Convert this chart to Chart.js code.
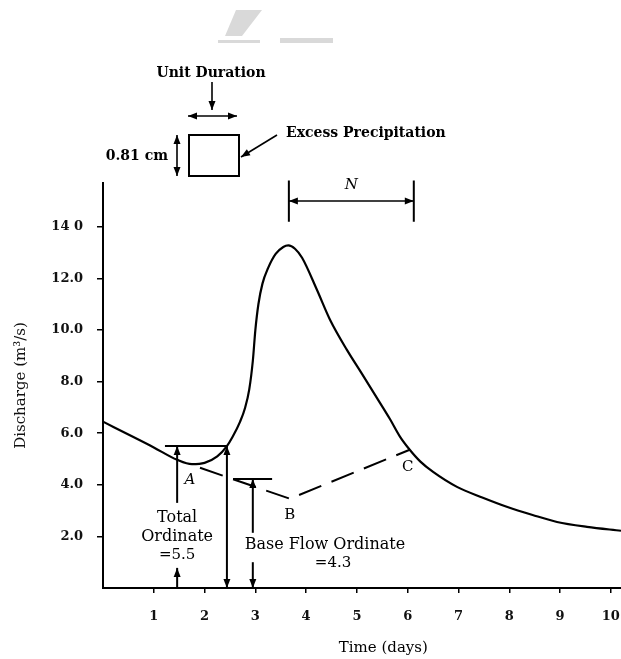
<!DOCTYPE html>
<html>
<head>
<meta charset="utf-8">
<script src="https://cdn.jsdelivr.net/npm/chart.js@4.4.0/dist/chart.umd.min.js"></script>
<style>
  html, body { margin: 0; padding: 0; background: #fff; }
  #wrap { width: 621px; height: 659px; }
</style>
</head>
<body>
<div id="wrap"><canvas id="hydro" width="621" height="659"></canvas></div>
<script>
// Hydrograph: time in days, discharge in m3/s
const times = [0, 0.5, 1.0, 1.46, 1.75, 2.0, 2.25, 2.44, 2.55, 2.7, 2.8, 2.88, 2.95, 3.0, 3.06, 3.14, 3.25, 3.4, 3.55, 3.65, 3.78, 3.92, 4.21, 4.47, 4.8, 5.1, 5.39, 5.65, 5.85, 6.04, 6.25, 6.5, 6.97, 7.48, 7.95, 8.46, 8.94, 9.53, 10.2];
const discharge = [6.45, 5.95, 5.45, 4.97, 4.8, 4.85, 5.1, 5.5, 5.85, 6.45, 7.0, 7.7, 8.8, 10.0, 11.0, 11.8, 12.4, 12.95, 13.22, 13.28, 13.15, 12.8, 11.57, 10.4, 9.24, 8.3, 7.38, 6.55, 5.86, 5.36, 4.9, 4.5, 3.92, 3.5, 3.15, 2.83, 2.56, 2.37, 2.22];

// Base flow separation A -> B -> C
const baseTimes = [1.91, 3.68, 6.04];
const baseFlow = [4.66, 3.46, 5.36];

const xTickLabels = ['1', '2', '3', '4', '5', '6', '7', '8', '9', '10'];
const yTickLabels = ['2.0', '4.0', '6.0', '8.0', '10.0', '12.0', '14 0'];

// Ordinate markers (days, m3/s)
const totalOrdinate = 5.5;
const baseOrdinate = 4.23;
const hLines = [
    [1.22, 2.46, totalOrdinate],
    [2.56, 3.33, baseOrdinate]
];
// [x, yFrom, yTo, head at from, head at to]
const arrows = [
    [1.46, 3.3, totalOrdinate, false, true],
    [1.46, 0, 0.78, false, true],
    [2.44, 0, totalOrdinate, true, true],
    [2.95, 2.14, baseOrdinate, false, true],
    [2.95, 1.0, 0, false, true]
];
const serif = '"DejaVu Serif"';
const notes = [
    ['A', 1.71, 4.2, 'italic 15px ' + serif],
    ['B', 3.68, 2.83, '15px ' + serif],
    ['C', 6.0, 4.7, '15px ' + serif],
    ['Total', 1.46, 2.72, '16px ' + serif],
    ['Ordinate', 1.46, 1.98, '16px ' + serif],
    ['=5.5', 1.46, 1.28, '15px ' + serif],
    ['Base Flow Ordinate', 4.37, 1.67, '16px ' + serif],
    ['=4.3', 4.53, 0.97, '15px ' + serif]
];
const nSpan = [3.66, 6.12];

function arrowHead(ctx, x, y, dx, dy) {
    const len = 9, half = 3.5;
    const m = Math.hypot(dx, dy);
    const ux = dx / m, uy = dy / m;
    ctx.beginPath();
    ctx.moveTo(x, y);
    ctx.lineTo(x - ux * len - uy * half, y - uy * len + ux * half);
    ctx.lineTo(x - ux * len + uy * half, y - uy * len - ux * half);
    ctx.closePath();
    ctx.fill();
}

function arrowLine(ctx, x1, y1, x2, y2, h1, h2) {
    ctx.beginPath();
    ctx.moveTo(x1, y1);
    ctx.lineTo(x2, y2);
    ctx.stroke();
    if (h1) arrowHead(ctx, x1, y1, x1 - x2, y1 - y2);
    if (h2) arrowHead(ctx, x2, y2, x2 - x1, y2 - y1);
}

const annotations = {
    id: 'annotations',
    afterDatasetsDraw(chart) {
        const ctx = chart.ctx;
        const xs = chart.scales.x, ys = chart.scales.y;
        const px = v => xs.getPixelForValue(v);
        const py = v => ys.getPixelForValue(v);
        ctx.save();
        ctx.strokeStyle = '#000';
        ctx.fillStyle = '#000';
        ctx.lineWidth = 2;

        hLines.forEach(([a, b, v]) => {
            ctx.beginPath();
            ctx.moveTo(px(a), py(v));
            ctx.lineTo(px(b), py(v));
            ctx.stroke();
        });
        arrows.forEach(([x, a, b, h1, h2]) => {
            arrowLine(ctx, px(x), py(a), px(x), py(b), h1, h2);
        });

        ctx.textAlign = 'center';
        ctx.textBaseline = 'middle';
        notes.forEach(([t, x, y, f]) => {
            ctx.font = f;
            ctx.fillText(t, px(x), py(y));
        });

        // N bracket, peak to point C
        const n1 = px(nSpan[0]), n2 = px(nSpan[1]);
        ctx.beginPath();
        ctx.moveTo(n1, py(14.2)); ctx.lineTo(n1, py(15.8));
        ctx.moveTo(n2, py(14.2)); ctx.lineTo(n2, py(15.8));
        ctx.stroke();
        ctx.lineWidth = 1.6;
        arrowLine(ctx, n1, py(15.0), n2, py(15.0), true, true);
        ctx.font = 'italic 15px ' + serif;
        ctx.fillText('N', (n1 + n2) / 2, py(15.6));

        // x axis title
        ctx.font = '15px ' + serif;
        ctx.fillText('Time (days)', px(5.52), chart.chartArea.bottom + 60);

        // header: excess precipitation block
        ctx.lineWidth = 2;
        ctx.strokeRect(189, 135, 50, 41);
        ctx.font = 'bold 14px ' + serif;
        ctx.fillText('Unit Duration', 211, 73);
        ctx.lineWidth = 1.6;
        arrowLine(ctx, 212, 82, 212, 110, false, true);
        arrowLine(ctx, 188, 116, 237, 116, true, true);
        arrowLine(ctx, 177, 135, 177, 176, true, true);
        arrowLine(ctx, 277, 135, 241, 157, false, true);
        ctx.textAlign = 'right';
        ctx.fillText('0.81 cm', 168, 156);
        ctx.textAlign = 'left';
        ctx.fillText('Excess Precipitation', 286, 133);

        // faint mark at the top of the scan
        ctx.fillStyle = '#d9d9d9';
        ctx.beginPath();
        ctx.moveTo(236, 10); ctx.lineTo(262, 10); ctx.lineTo(242, 36); ctx.lineTo(225, 36);
        ctx.closePath();
        ctx.fill();
        ctx.fillRect(218, 40, 42, 3);
        ctx.fillRect(280, 38, 53, 5);
        ctx.restore();
    }
};

const tickFont = { family: serif, size: 13, weight: 'bold' };

new Chart(document.getElementById('hydro'), {
    type: 'line',
    data: {
        datasets: [
            {
                data: times.map((t, i) => ({ x: t, y: discharge[i] })),
                borderColor: '#000',
                borderWidth: 2.2,
                pointRadius: 0,
                cubicInterpolationMode: 'monotone',
                fill: false
            },
            {
                data: baseTimes.map((t, i) => ({ x: t, y: baseFlow[i] })),
                borderColor: '#000',
                borderWidth: 2,
                borderDash: [24, 11],
                pointRadius: 0,
                tension: 0,
                fill: false
            }
        ]
    },
    options: {
        responsive: false,
        devicePixelRatio: 1,
        animation: false,
        layout: { padding: { top: 183, left: 0, right: 0, bottom: 0 } },
        plugins: {
            legend: { display: false },
            tooltip: { enabled: false }
        },
        scales: {
            x: {
                type: 'linear',
                min: 0,
                max: 10.2,
                // axis runs to the right edge of the figure
                afterFit: s => { s.height = 71; s.paddingLeft = 0; s.paddingRight = 0; },
                border: { display: true, color: '#000', width: 2 },
                grid: { drawOnChartArea: false, drawTicks: true, tickLength: 5, color: '#000', lineWidth: 1.5 },
                ticks: {
                    stepSize: 1,
                    includeBounds: false,
                    maxRotation: 0,
                    autoSkip: false,
                    padding: 16,
                    color: '#111',
                    font: tickFont,
                    callback: v => (v === 0 ? null : xTickLabels[v - 1])
                }
            },
            y: {
                type: 'linear',
                min: 0,
                max: 15.7,
                afterFit: s => { s.width = 103; s.paddingTop = 0; s.paddingBottom = 0; },
                border: { display: true, color: '#000', width: 2 },
                grid: { drawOnChartArea: false, drawTicks: true, tickLength: 6, color: '#000', lineWidth: 1.5 },
                ticks: {
                    stepSize: 2,
                    includeBounds: false,
                    autoSkip: false,
                    padding: 14,
                    color: '#111',
                    font: tickFont,
                    callback: v => (v === 0 ? null : yTickLabels[v / 2 - 1])
                },
                title: {
                    display: true,
                    text: 'Discharge (m³/s)',
                    color: '#111',
                    font: { family: serif, size: 15 },
                    padding: { top: 12, bottom: 0 }
                }
            }
        }
    },
    plugins: [annotations]
});
</script>
</body>
</html>
